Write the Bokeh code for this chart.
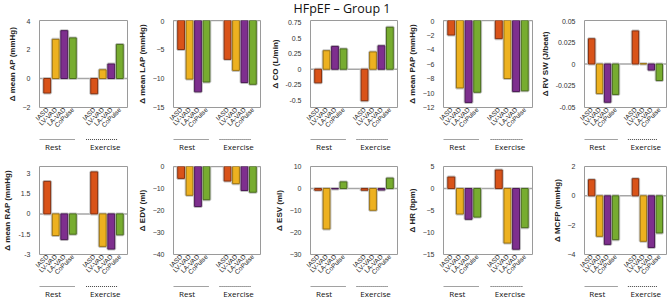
import math
from bokeh.plotting import figure
from bokeh.layouts import gridplot, column
from bokeh.models import Span, FixedTicker, Range1d, ColumnDataSource, Div
from bokeh.core.properties import value
from bokeh.embed import file_html
from bokeh.resources import INLINE

# ---------------- data ----------------
devices = ["IASD", "LV-VAD", "LA-VAD", "CoPulse"]
conditions = ["Rest", "Exercise"]
colors = ["#D95319", "#EDB120", "#7E2F8E", "#77AC30"]
edge_colors = ["#8A3210", "#9C7412", "#4C1A57", "#4B6E1D"]

ap_rest = [-1.0, 2.7, 3.3, 2.8]
ap_ex = [-1.05, 0.6, 1.0, 2.35]
lap_rest = [-5.0, -10.1, -12.3, -10.6]
lap_ex = [-6.7, -8.6, -10.7, -11.0]
co_rest = [-0.22, 0.30, 0.37, 0.33]
co_ex = [-0.51, 0.28, 0.38, 0.68]
pap_rest = [-2.0, -9.3, -11.3, -9.9]
pap_ex = [-2.5, -8.0, -9.8, -9.7]
rvsw_rest = [0.029, -0.034, -0.044, -0.035]
rvsw_ex = [0.038, 0.0004, -0.007, -0.019]
rap_rest = [2.4, -1.6, -1.9, -1.5]
rap_ex = [3.1, -2.4, -2.6, -1.55]
edv_rest = [-5.4, -13.1, -18.2, -15.1]
edv_ex = [-6.6, -7.8, -10.9, -11.7]
esv_rest = [-0.8, -18.4, -0.2, 3.0]
esv_ex = [-0.8, -9.9, -0.7, 4.7]
hr_rest = [2.6, -5.8, -7.0, -6.5]
hr_ex = [4.2, -12.4, -13.8, -8.9]
mcfp_rest = [1.1, -2.76, -3.31, -2.99]
mcfp_ex = [1.17, -3.1, -3.52, -2.53]

ap_ticks = [-2, 0, 2, 4]
lap_ticks = [-15, -10, -5, 0]
co_ticks = [-0.5, -0.25, 0, 0.25, 0.5, 0.75]
co_tick_labels = ["-0.5", "-0.25", "0", "0.25", "0.5", "0.75"]
pap_ticks = [-12, -10, -8, -6, -4, -2, 0]
rvsw_ticks = [-0.05, -0.025, 0, 0.025, 0.05]
rvsw_tick_labels = ["-0.05", "-0.025", "0", "0.025", "0.05"]
rap_ticks = [-3, -1.5, 0, 1.5, 3]
rap_tick_labels = ["-3", "-1.5", "0", "1.5", "3"]
edv_ticks = [-40, -30, -20, -10, 0]
esv_ticks = [-30, -20, -10, 0, 10]
hr_ticks = [-15, -10, -5, 0, 5]
mcfp_ticks = [-4, -2, 0, 2]

panels = [
    ("\u0394 mean AP (mmHg)", ap_rest, ap_ex, ap_ticks, None, (-2, 4)),
    ("\u0394 mean LAP (mmHg)", lap_rest, lap_ex, lap_ticks, None, (-15, 0)),
    ("\u0394 CO (L/min)", co_rest, co_ex, co_ticks, co_tick_labels, (-0.62, 0.79)),
    ("\u0394 mean PAP (mmHg)", pap_rest, pap_ex, pap_ticks, None, (-12, 0)),
    ("\u0394 RV SW (J/beat)", rvsw_rest, rvsw_ex, rvsw_ticks, rvsw_tick_labels, (-0.05, 0.05)),
    ("\u0394 mean RAP (mmHg)", rap_rest, rap_ex, rap_ticks, rap_tick_labels, (-3, 3.5)),
    ("\u0394 EDV (ml)", edv_rest, edv_ex, edv_ticks, None, (-40, 0)),
    ("\u0394 ESV (ml)", esv_rest, esv_ex, esv_ticks, None, (-30, 10)),
    ("\u0394 HR (bpm)", hr_rest, hr_ex, hr_ticks, None, (-15, 5)),
    ("\u0394 MCFP (mmHg)", mcfp_rest, mcfp_ex, mcfp_ticks, None, (-4, 2)),
]

title_text = "HFpEF \u2013 Group 1"

# ---------------- layout ----------------
group_start = [1.0, 6.5]
x_range = (0.1, 10.4)
col_widths = [134, 133, 137, 133, 131]
col_left = [25, 24, 27, 27, 27]
col_right = [7, 7, 7, 5, 2]
title_h = 18
row_top = [2, 16]
frame_h = [87, 88]
axis_h = 31
strip_h = 12
strip_line_y = [11, 11]
strip_text_y = [4.4, 4.2]
# group decoration (data-x offsets relative to group start)
line_span = [(-0.9, 3.24), (-0.95, 2.8)]
text_x = [0.7, 1.3]

AX_FONT = "Liberation Sans"
GROUP_FONT = "Open Sans"


def make_panel(idx, spec):
    label, rest, ex, ticks, tick_labels, (ymin, ymax) = spec
    r, c = divmod(idx, 5)
    p = figure(width=col_widths[c], height=row_top[r] + frame_h[r] + axis_h,
               output_backend="svg", toolbar_location=None, title=None,
               x_range=Range1d(*x_range), y_range=Range1d(ymin, ymax),
               min_border=0, min_border_left=col_left[c], min_border_right=col_right[c],
               min_border_top=row_top[r], min_border_bottom=axis_h)
    p.grid.visible = False
    p.outline_line_color = "#9a9a9a"
    p.outline_line_width = 1
    p.background_fill_color = "white"
    p.border_fill_color = "white"

    p.add_layout(Span(location=0, dimension="width", line_color="#a6a6a6",
                      line_width=1.5, level="underlay"))

    xs, tops, fills, lines = [], [], [], []
    for g, vals in enumerate([rest, ex]):
        for i, v in enumerate(vals):
            xs.append(group_start[g] + i)
            tops.append(v)
            fills.append(colors[i])
            lines.append(edge_colors[i])
    src = ColumnDataSource(dict(x=xs, top=tops, fill=fills, line=lines))
    p.vbar(x="x", top="top", bottom=0, width=0.8, source=src, fill_color=None,
           line_color="#c4c4c4", line_width=3)
    p.vbar(x="x", top="top", bottom=0, width=0.8, source=src, fill_color="fill",
           line_color="line", line_width=1)

    # y axis
    ya = p.yaxis[0]
    ya.ticker = FixedTicker(ticks=ticks)
    if tick_labels is not None:
        ya.major_label_overrides = {t: s for t, s in zip(ticks, tick_labels)}
    ya.axis_label = label
    ya.axis_label_text_font = AX_FONT
    ya.axis_label_text_font_size = "8px"
    ya.axis_label_text_font_style = "bold"
    ya.axis_label_text_color = "#222222"
    ya.axis_label_standoff = 3
    ya.major_label_text_font = AX_FONT
    ya.major_label_text_font_size = "7px"
    ya.major_label_text_color = "#333333"
    ya.major_label_standoff = 3
    ya.axis_line_color = None
    ya.major_tick_line_color = None
    ya.minor_tick_line_color = None

    # x axis with device labels
    xa = p.xaxis[0]
    xt = [group_start[g] + i for g in range(2) for i in range(4)]
    xa.ticker = FixedTicker(ticks=xt)
    xa.major_label_overrides = {t: devices[k % 4] for k, t in enumerate(xt)}
    xa.major_label_orientation = math.pi / 4
    xa.major_label_text_font = AX_FONT
    xa.major_label_text_font_size = "6.5px"
    xa.major_label_text_color = "#222222"
    xa.axis_line_color = None
    xa.major_tick_line_color = None
    xa.minor_tick_line_color = None
    xa.major_tick_in = 0
    xa.major_tick_out = 0
    xa.major_label_standoff = 1
    return p


def make_strip(r, c):
    s = figure(width=col_widths[c], height=strip_h, output_backend="svg",
               toolbar_location=None, title=None,
               x_range=Range1d(*x_range), y_range=Range1d(0, strip_h),
               x_axis_location=None, y_axis_location=None,
               min_border=0, min_border_left=col_left[c], min_border_right=col_right[c],
               min_border_top=0, min_border_bottom=0)
    s.grid.visible = False
    s.outline_line_color = None
    s.border_fill_color = "white"
    s.background_fill_color = "white"
    x0 = [group_start[g] + line_span[g][0] for g in range(2)]
    x1 = [group_start[g] + line_span[g][1] for g in range(2)]
    ly = [strip_line_y[r]] * 2
    s.segment(x0=x0, y0=ly, x1=x1, y1=ly, line_color="#444444", line_width=1,
              line_dash="1 1")
    tx = [group_start[g] + text_x[g] for g in range(2)]
    s.text(x=tx, y=[strip_text_y[r]] * 2, text=conditions, text_align="center",
           text_baseline="alphabetic", text_font=value(GROUP_FONT),
           text_font_size="8px", text_color="#111111")
    return s


figs = [make_panel(i, spec) for i, spec in enumerate(panels)]
strips = [[make_strip(r, c) for c in range(5)] for r in range(2)]
grid = gridplot([figs[:5], strips[0], figs[5:], strips[1]], toolbar_location=None)

title = Div(text=title_text, width=668, height=title_h, margin=0,
            styles={"font-family": "Open Sans", "font-size": "12.5px", "color": "#111111",
                    "text-align": "center", "line-height": "18px", "padding-left": "16px",
                    "box-sizing": "border-box", "width": "668px"})

layout = column(title, grid, spacing=0)
open("out.html", "w").write(file_html(layout, INLINE))
